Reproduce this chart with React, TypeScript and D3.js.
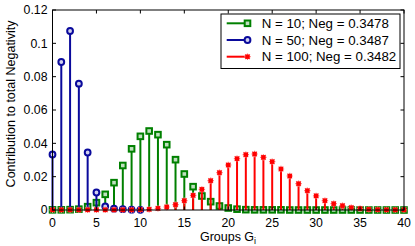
import React from "react";
import * as d3 from "d3";

const groups = [0,1,2,3,4,5,6,7,8,9,10,11,12,13,14,15,16,17,18,19,20,21,22,23,24,25,26,27,28,29,30,31,32,33,34,35,36,37,38,39,40];

const greenN10 = [0.0001,0.0001,0.0002,0.0005,0.002,0.0044,0.0094,0.0164,0.0267,0.0367,0.0442,0.0474,0.0452,0.0392,0.0302,0.0216,0.014,0.0084,0.005,0.0024,0.0012,0.0005,0.0002,0.0001,0.0001,0.0001,0.0001,0,0,0,0,0,0,0,0,0,0,0,0,0,0];
const blueGroups = [0,1,2,3,4,5,6,7,8,9,10];
const blueN50 = [0.0333,0.0888,0.1074,0.0758,0.0345,0.0105,0.0022,0.0008,0.0005,0.0002,0.0001];
const redN100 = [0.0001,0.0001,0.0001,0.0001,0.0001,0.0001,0.0001,0.0001,0.0001,0.0001,0.0002,0.0004,0.001,0.0018,0.0032,0.0056,0.0088,0.0124,0.0176,0.0224,0.027,0.0308,0.0332,0.0336,0.0316,0.029,0.0246,0.0204,0.0158,0.0116,0.0085,0.0056,0.0038,0.0026,0.0014,0.0008,0.0004,0.0002,0.0001,0.0001,0.0001];

const xTicks = [0,5,10,15,20,25,30,35,40];
const yTicks = [0,0.02,0.04,0.06,0.08,0.1,0.12];
const yTickLabels = ["0","0.02","0.04","0.06","0.08","0.1","0.12"];
const legendLabels = ["N = 10; Neg = 0.3478","N = 50; Neg = 0.3487","N = 100; Neg = 0.3482"];

const GREEN = "#008000";
const BLUE = "#0a0a9c";
const RED = "#ff0000";
const FONT = "'Liberation Sans', Arial, Helvetica, sans-serif";

const W = 415, H = 246;
const L = 52.5, R = 404, T = 10, B = 210;

const Square = ({ x, y }: { x: number; y: number }) => (
  <rect x={x - 2.8} y={y - 2.8} width={5.6} height={5.6} fill="#bfe0bf" stroke={GREEN} strokeWidth={2} />
);
const Circ = ({ x, y }: { x: number; y: number }) => (
  <circle cx={x} cy={y} r={2.9} fill="#d0d0ee" stroke={BLUE} strokeWidth={2} />
);
const Star = ({ x, y }: { x: number; y: number }) => (
  <g>
    <path d={`M${x - 3.2},${y}H${x + 3.2}M${x},${y - 3.2}V${y + 3.2}M${x - 2.4},${y - 2.4}L${x + 2.4},${y + 2.4}M${x - 2.4},${y + 2.4}L${x + 2.4},${y - 2.4}`} stroke="#ff7070" strokeWidth={1.2} />
    <rect x={x - 2.2} y={y - 2.2} width={4.4} height={4.4} fill={RED} />
  </g>
);

export default function App() {
  const x = d3.scaleLinear().domain([0, 40]).range([L, R]);
  const y = d3.scaleLinear().domain([0, 0.12]).range([B, T]);

  const stems = (xs: number[], vals: number[], color: string, Marker: any, key: string) => (
    <g key={key}>
      {vals.map((v, i) => (
        <line key={"s" + i} x1={x(xs[i])} x2={x(xs[i])} y1={y(0)} y2={y(v)} stroke={color} strokeWidth={2} />
      ))}
      {vals.map((v, i) => (
        <Marker key={"m" + i} x={x(xs[i])} y={y(v)} />
      ))}
    </g>
  );

  const legendRows = [
    { color: GREEN, M: Square },
    { color: BLUE, M: Circ },
    { color: RED, M: Star },
  ];

  return (
    <svg width={W} height={H} style={{ position: "absolute", left: 0, top: 0, background: "#fff" }} fontFamily={FONT}>
      <rect x={0} y={0} width={W} height={H} fill="#fff" />
      {stems(groups, greenN10, GREEN, Square, "g")}
      {stems(blueGroups, blueN50, BLUE, Circ, "b")}
      {stems(groups, redN100, RED, Star, "r")}
      <rect x={L} y={T} width={R - L} height={B - T} fill="none" stroke="#000" strokeWidth={1} />
      {xTicks.map((t) => (
        <g key={"xt" + t}>
          <line x1={x(t)} x2={x(t)} y1={B} y2={B - 3.5} stroke="#000" />
          <line x1={x(t)} x2={x(t)} y1={T} y2={T + 3.5} stroke="#000" />
          <text x={x(t)} y={226.5} fontSize={12.3} textAnchor="middle" fill="#000">{t}</text>
        </g>
      ))}
      {yTicks.map((t, i) => (
        <g key={"yt" + i}>
          <line x1={L} x2={L + 3.5} y1={y(t)} y2={y(t)} stroke="#000" />
          <line x1={R} x2={R - 3.5} y1={y(t)} y2={y(t)} stroke="#000" />
          <text x={47.5} y={y(t) + 4.4} fontSize={12.3} textAnchor="end" fill="#000">{yTickLabels[i]}</text>
        </g>
      ))}
      <text transform={`translate(15,104) rotate(-90)`} fontSize={12.5} textAnchor="middle" fill="#000">
        Contribution to total Negativity
      </text>
      <text x={228} y={240.5} fontSize={12.5} textAnchor="middle" fill="#000">
        Groups G<tspan fontSize={9} dy={3.5}>i</tspan>
      </text>
      <rect x={221} y={14} width={179} height={54.5} fill="#fff" stroke="#000" strokeWidth={1} />
      {legendRows.map((r, i) => {
        const ly = 23.3 + i * 16.7;
        const M = r.M;
        return (
          <g key={"lg" + i}>
            <line x1={226.7} x2={248} y1={ly} y2={ly} stroke={r.color} strokeWidth={2} />
            <M x={247.5} y={ly} />
            <text x={261.7} y={ly + 4.6} fontSize={13.3} fill="#000">{legendLabels[i]}</text>
          </g>
        );
      })}
    </svg>
  );
}
